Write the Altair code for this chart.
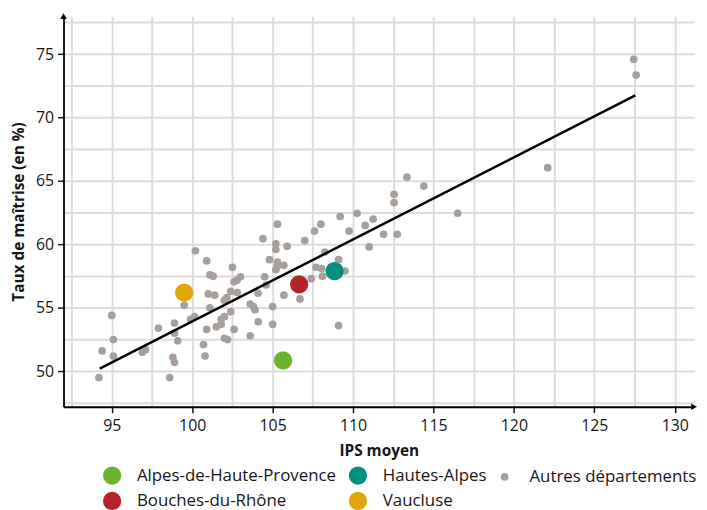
import altair as alt
import pandas as pd

# --- data ---
ips_autres = [94.2, 94.4, 95.0, 95.1, 95.1, 96.9, 97.1, 97.9, 98.9, 98.9,
              99.1, 98.8, 98.9, 98.6, 99.5, 99.9, 100.15, 100.2, 100.9, 101.1,
              101.3, 102.5, 102.6, 102.8, 101.0, 101.4, 101.1, 100.9, 100.7, 100.8,
              102.0, 102.15, 102.4, 101.8, 102.0, 101.5, 102.0, 102.2, 102.6, 102.4,
              104.4, 105.2, 105.2, 105.9, 104.8, 105.3, 105.3, 105.7, 105.2, 103.0,
              104.5, 104.6, 102.8, 104.1, 105.7, 106.7, 103.6, 103.8, 103.9, 105.0,
              104.1, 105.0, 103.6, 105.3, 107.0, 112.55, 112.55, 110.25, 111.25, 109.2,
              108.0, 107.6, 109.75, 110.75, 111.9, 112.75, 111.0, 108.25, 109.1, 107.7,
              108.05, 108.1, 107.4, 109.5, 109.1, 113.35, 114.4, 116.5, 122.1, 127.45,
              127.6, 101.8]
taux_autres = [49.5, 51.6, 54.4, 52.5, 51.2, 51.5, 51.7, 53.4, 53.8, 53.0,
               52.4, 51.1, 50.7, 49.5, 55.2, 54.1, 54.3, 59.5, 58.7, 57.6,
               57.5, 58.2, 57.05, 57.2, 56.1, 56.0, 55.0, 53.3, 52.1, 51.2,
               55.6, 55.8, 54.7, 54.1, 54.3, 53.5, 52.6, 52.5, 53.3, 56.3,
               60.45, 60.05, 59.6, 59.85, 58.8, 58.6, 58.3, 58.35, 58.0, 57.45,
               57.45, 56.8, 56.2, 56.15, 56.0, 55.7, 55.3, 55.1, 54.85, 55.1,
               53.9, 53.7, 52.8, 61.6, 60.3, 63.95, 63.3, 62.45, 62.0, 62.2,
               61.6, 61.05, 61.05, 61.5, 60.8, 60.8, 59.8, 59.4, 58.8, 58.2,
               58.1, 57.5, 57.3, 57.9, 53.6, 65.3, 64.6, 62.45, 66.05, 74.6,
               73.35, 53.7]

dep_noms = ["Alpes-de-Haute-Provence", "Hautes-Alpes", "Bouches-du-Rhône", "Vaucluse"]
dep_ips = [105.65, 108.85, 106.65, 99.5]
dep_taux = [50.85, 57.9, 56.85, 56.2]

autres_nom = "Autres départements"
legend_order = ["Alpes-de-Haute-Provence", "Hautes-Alpes", "Autres départements",
                "Bouches-du-Rhône", "Vaucluse"]
legend_colors = ["#6BB52E", "#009081", "#A89F9A", "#B5232A", "#E0A70B"]
legend_sizes = [340, 340, 60, 340, 340]

reg_ips = [94.25, 127.55]
reg_taux = [50.2, 71.75]

x_grid = [92.5, 95, 97.5, 100, 102.5, 105, 107.5, 110, 112.5, 115, 117.5,
          120, 122.5, 125, 127.5, 130]
y_grid = [47.5, 50, 52.5, 55, 57.5, 60, 62.5, 65, 67.5, 70, 72.5, 75, 77.5]
x_domain = [92, 131.2]
y_domain = [47.2, 78]

X_TITLE = "IPS moyen"
Y_TITLE = "Taux de maîtrise (en %)"
FONT = "Open Sans"
INK = "#161616"
GRID = "#DCDCDC"

df_autres = pd.DataFrame({"ips": ips_autres, "taux": taux_autres, "dep": autres_nom})
df_dep = pd.DataFrame({"ips": dep_ips, "taux": dep_taux, "dep": dep_noms})
df_reg = pd.DataFrame({"ips": reg_ips, "taux": reg_taux})
df_arrow_y = pd.DataFrame({"ips": [x_domain[0]], "taux": [y_domain[1]]})
df_arrow_x = pd.DataFrame({"ips": [x_domain[1]], "taux": [y_domain[0]]})

tick_col = {"condition": {"test": "datum.value % 5 === 0", "value": INK}, "value": "transparent"}
label_expr = "datum.value % 5 === 0 ? format(datum.value, 'd') : ''"

x_scale = alt.Scale(domain=x_domain, nice=False, zero=False)
y_scale = alt.Scale(domain=y_domain, nice=False, zero=False)
x_axis = alt.Axis(values=x_grid, grid=True, labelExpr=label_expr, tickColor=tick_col,
                  labelOverlap=False, labelBound=False, labelFlush=False)
y_axis = alt.Axis(values=y_grid, grid=True, labelExpr=label_expr, tickColor=tick_col,
                  labelOverlap=False, labelBound=False, labelFlush=False)

x_enc = alt.X("ips:Q", title=X_TITLE, scale=x_scale, axis=x_axis)
y_enc = alt.Y("taux:Q", title=Y_TITLE, scale=y_scale, axis=y_axis)

leg = alt.Legend(title=None, orient="none", legendX=39, legendY=453,
                 direction="horizontal", columns=3,
                 columnPadding=8, rowPadding=0,
                 labelOffset=15, labelFontSize=17, labelLimit=400,
                 labelFont=FONT, labelColor=INK,
                 symbolType="circle", symbolStrokeColor="#000000",
                 symbolStrokeWidth=1.5, symbolOpacity=1)

color_enc = alt.Color("dep:N", scale=alt.Scale(domain=legend_order, range=legend_colors),
                      legend=leg)
size_enc = alt.Size("dep:N", scale=alt.Scale(type="ordinal", domain=legend_order, range=legend_sizes),
                    legend=leg)

pts_autres = alt.Chart(df_autres).mark_circle(opacity=1).encode(
    x=x_enc, y=y_enc, color=color_enc, size=size_enc)
reg_line = alt.Chart(df_reg).mark_line(color="#000000", strokeWidth=2.5).encode(
    x=x_enc, y=y_enc)
pts_dep = alt.Chart(df_dep).mark_circle(opacity=1).encode(
    x=x_enc, y=y_enc, color=color_enc, size=size_enc)
arrow_y = alt.Chart(df_arrow_y).mark_point(shape="triangle-up", filled=True, color="#000000",
                                           size=45, opacity=1).encode(x=x_enc, y=y_enc)
arrow_x = alt.Chart(df_arrow_x).mark_point(shape="triangle-right", filled=True, color="#000000",
                                           size=45, opacity=1).encode(x=x_enc, y=y_enc)

chart = alt.layer(pts_autres, reg_line, pts_dep, arrow_y, arrow_x).properties(
    width=636, height=394,
    autosize=alt.AutoSizeParams(type="none"),
    padding={"left": 56, "top": 6, "right": 5, "bottom": 110},
).configure_view(stroke=None).configure_axis(
    domainColor="#000000", domainWidth=1.8,
    gridColor=GRID, gridWidth=2, gridOpacity=1,
    tickSize=6, tickWidth=1.5,
    labelFont=FONT, labelFontSize=16, labelColor=INK, labelPadding=4,
    titleFont=FONT, titleFontSize=15.5, titleFontWeight="bold", titleColor=INK,
).configure_axisY(titlePadding=9).configure_axisX(titlePadding=10, labelPadding=5)

chart.save("out.html", embed_options={"renderer": "svg", "actions": False})
